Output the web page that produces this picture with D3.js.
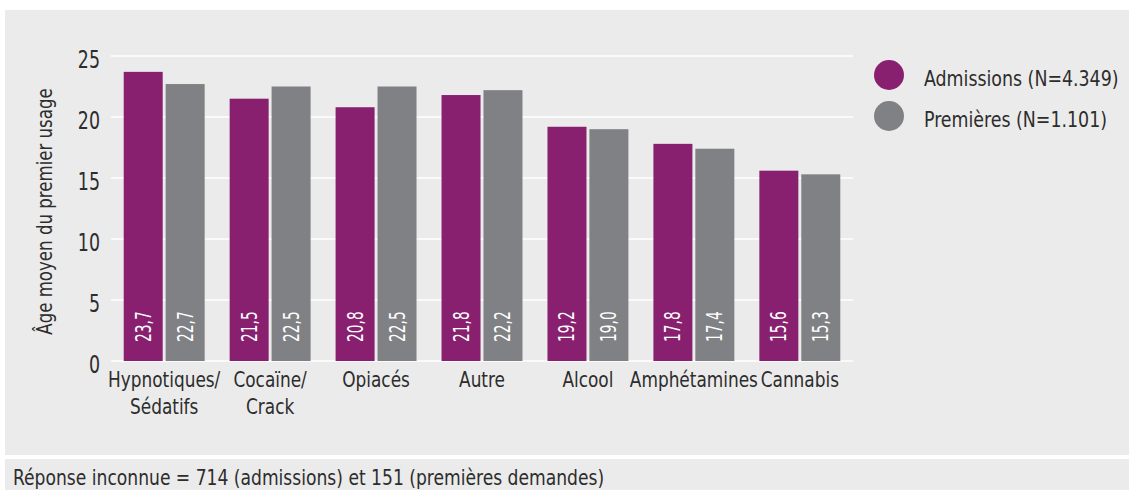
<!DOCTYPE html>
<html lang="fr">
<head>
<meta charset="UTF-8">
<title>Âge moyen du premier usage</title>
<script src="https://d3js.org/d3.v7.min.js"></script>
<style>
  body { margin: 0; background: #fff; }
  svg text { font-family: "DejaVu Sans Condensed", "DejaVu Sans", sans-serif; font-stretch: condensed; }
</style>
</head>
<body>
<script>
// data
var categories = ["Hypnotiques/\nSédatifs", "Cocaïne/\nCrack", "Opiacés", "Autre", "Alcool", "Amphétamines", "Cannabis"];
var admissions = [23.7, 21.5, 20.8, 21.8, 19.2, 17.8, 15.6];
var premieres = [22.7, 22.5, 22.5, 22.2, 19.0, 17.4, 15.3];
var seriesNames = ["Admissions (N=4.349)", "Premières (N=1.101)"];
var yTicks = [0, 5, 10, 15, 20, 25];
var footnote = "Réponse inconnue = 714 (admissions) et 151 (premières demandes)";
var yTitle = "Âge moyen du premier usage";

var w = 1129, h = 490;
var colors = ["#88206f", "#808184"];
var textCol = "#2d2d2d";

// the original uses a condensed face, so text is squeezed horizontally
function place(x, y, rot, sx) {
    return "translate(" + x + "," + y + ")" + (rot ? " rotate(" + rot + ")" : "") + " scale(" + sx + ",1)";
}

var svg = d3.select("body").append("svg")
    .attr("width", w)
    .attr("height", h);

// panels
svg.append("rect").attr("x", 5).attr("y", 10).attr("width", w - 5).attr("height", 445).attr("fill", "#ebebeb");
svg.append("rect").attr("x", 5).attr("y", 459).attr("width", w - 5).attr("height", 31).attr("fill", "#ebebeb");

var x0 = d3.scaleBand()
    .domain(categories)
    .range([111, 853])
    .paddingInner(0.236)
    .paddingOuter(0.12);

var x1 = d3.scaleBand()
    .domain([0, 1])
    .range([0, x0.bandwidth()])
    .paddingInner(0.07);

var y = d3.scaleLinear()
    .domain([0, 25])
    .range([361, 56]);

// grid
svg.selectAll("line.grid")
    .data(yTicks)
    .enter().append("line")
    .attr("class", "grid")
    .attr("x1", 111).attr("x2", 853)
    .attr("y1", function(d) { return y(d); })
    .attr("y2", function(d) { return y(d); })
    .attr("stroke", "#fff")
    .attr("stroke-width", 1.5);

svg.selectAll("text.tick")
    .data(yTicks)
    .enter().append("text")
    .attr("class", "tick")
    .attr("transform", function(d) { return place(100, y(d) + 12, 0, 0.79); })
    .attr("text-anchor", "end")
    .attr("fill", textCol)
    .style("font-size", "24.5px")
    .text(function(d) { return d; });

svg.append("text")
    .attr("transform", place(52, 211.5, -90, 0.88))
    .attr("text-anchor", "middle")
    .attr("fill", textCol)
    .style("font-size", "21px")
    .text(yTitle);

// bars
var rows = categories.map(function(c, i) {
    return { cat: c, vals: [admissions[i], premieres[i]] };
});

var groups = svg.selectAll("g.grp")
    .data(rows)
    .enter().append("g")
    .attr("class", "grp")
    .attr("transform", function(d) { return "translate(" + x0(d.cat) + ",0)"; });

var bars = groups.selectAll("g.bar")
    .data(function(d) { return d.vals; })
    .enter().append("g")
    .attr("class", "bar");

bars.append("rect")
    .attr("x", function(d, i) { return x1(i); })
    .attr("y", function(d) { return y(d); })
    .attr("width", x1.bandwidth())
    .attr("height", function(d) { return y(0) - y(d); })
    .attr("fill", function(d, i) { return colors[i]; });

bars.append("text")
    .attr("transform", function(d, i) {
        return place(x1(i) + x1.bandwidth() / 2 + 7.5, y(0) - 19, -90, 0.75);
    })
    .attr("fill", "#fff")
    .style("font-size", "20.5px")
    .text(function(d) { return d.toFixed(1).replace(".", ","); });

// category labels
groups.each(function(d) {
    var g = d3.select(this);
    d.cat.split("\n").forEach(function(line, i) {
        g.append("text")
            .attr("transform", place(x0.bandwidth() / 2, 387 + i * 27, 0, 0.875))
            .attr("text-anchor", "middle")
            .attr("fill", textCol)
            .style("font-size", "21.5px")
            .text(line);
    });
});

// legend
var legend = svg.selectAll("g.legend")
    .data(seriesNames)
    .enter().append("g")
    .attr("class", "legend")
    .attr("transform", function(d, i) { return "translate(889," + (75 + i * 41) + ")"; });

legend.append("circle")
    .attr("r", 15)
    .attr("fill", function(d, i) { return colors[i]; });

legend.append("text")
    .attr("transform", place(35, 10.5, 0, 0.9))
    .attr("fill", textCol)
    .style("font-size", "21.5px")
    .text(function(d) { return d; });

// footnote
svg.append("text")
    .attr("transform", place(13, 485, 0, 0.93))
    .attr("fill", textCol)
    .style("font-size", "20.5px")
    .text(footnote);
</script>
</body>
</html>
